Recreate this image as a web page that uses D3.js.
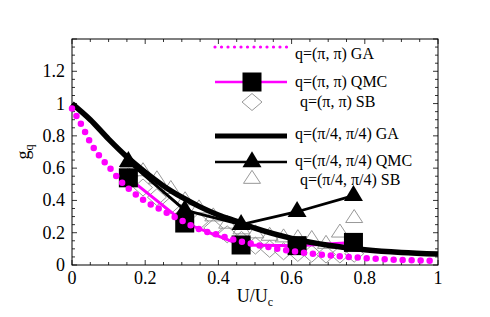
<!DOCTYPE html>
<html>
<head>
<meta charset="utf-8">
<script src="https://cdn.jsdelivr.net/npm/d3@7"></script>
<style>
  body { margin: 0; background: #fff; }
</style>
</head>
<body>
<div id="chart"></div>
<script>
// GA curves
const gaPiU = [0, 0.03, 0.05, 0.077, 0.1, 0.137, 0.167, 0.2, 0.25, 0.3, 0.35, 0.4, 0.45, 0.5, 0.6, 0.7, 0.8, 0.9, 1.0];
const gaPiV = [0.97, 0.85, 0.76, 0.67, 0.61, 0.51, 0.45, 0.395, 0.335, 0.275, 0.22, 0.186, 0.152, 0.127, 0.087, 0.06, 0.043, 0.031, 0.025];
const gaQ4U = [0, 0.05, 0.1, 0.15, 0.2, 0.25, 0.3, 0.35, 0.4, 0.45, 0.5, 0.6, 0.7, 0.8, 0.9, 1.0];
const gaQ4V = [1.0, 0.9, 0.78, 0.67, 0.575, 0.49, 0.42, 0.36, 0.31, 0.27, 0.228, 0.165, 0.122, 0.095, 0.078, 0.068];

// QMC points
const qmcU = [0.154, 0.308, 0.462, 0.615, 0.769];
const qmcPiV = [0.54, 0.26, 0.124, 0.12, 0.14];
const qmcQ4V = [0.64, 0.34, 0.25, 0.33, 0.43];

// SB points
const sbU = [0.155, 0.194, 0.232, 0.27, 0.309, 0.347, 0.386, 0.424, 0.463, 0.501, 0.54, 0.578, 0.617, 0.655, 0.694, 0.732, 0.771];
const sbPiV = [0.55, 0.48, 0.42, 0.37, 0.32, 0.27, 0.23, 0.19, 0.155, 0.12, 0.1, 0.085, 0.075, 0.07, 0.065, 0.065, 0.07];
const sbQ4V = [0.63, 0.58, 0.53, 0.47, 0.40, 0.35, 0.30, 0.255, 0.22, 0.195, 0.18, 0.17, 0.165, 0.16, 0.13, 0.2, 0.29];

const xTicks = [0, 0.2, 0.4, 0.6, 0.8, 1];
const yTicks = [0, 0.2, 0.4, 0.6, 0.8, 1, 1.2];
const yTickLabels = ['0', '0.2', '0.4', '0.6', '0.8', '1', '1.2'];

const legendLabels = [
  'q=(\u03c0, \u03c0) GA',
  'q=(\u03c0, \u03c0) QMC',
  'q=(\u03c0, \u03c0) SB',
  'q=(\u03c0/4, \u03c0/4) GA',
  'q=(\u03c0/4, \u03c0/4) QMC',
  'q=(\u03c0/4, \u03c0/4) SB'
];

const MAGENTA = '#ff00ff';
const GREY = '#8c8c8c';
const FONT = "Liberation Serif, DejaVu Serif, Noto Serif, FreeSerif, Times New Roman, serif";

const width = 490, height = 317;
const x = d3.scaleLinear().domain([0, 1]).range([72, 438]);
const y = d3.scaleLinear().domain([0, 1.4]).range([265, 39]);

const svg = d3.select('#chart').append('svg')
  .attr('width', width)
  .attr('height', height)
  .style('font-family', FONT);

// Frame
svg.append('rect')
  .attr('x', x(0)).attr('y', y(1.4))
  .attr('width', x(1) - x(0)).attr('height', y(0) - y(1.4))
  .attr('fill', 'none').attr('stroke', '#000').attr('stroke-width', 1);

// Inward ticks on all sides
const minorX = d3.range(0, 1.0001, 0.05);
const minorY = d3.range(0, 1.4001, 0.05);
const isMajor = (v) => Math.abs(v * 5 - Math.round(v * 5)) < 1e-6;
const ticks = svg.append('g').attr('stroke', '#000').attr('stroke-width', 0.8);
minorX.forEach((v) => {
  const len = isMajor(v) ? 5 : 3;
  ticks.append('line').attr('x1', x(v)).attr('x2', x(v)).attr('y1', y(0)).attr('y2', y(0) - len);
  ticks.append('line').attr('x1', x(v)).attr('x2', x(v)).attr('y1', y(1.4)).attr('y2', y(1.4) + len);
});
minorY.forEach((v) => {
  const len = isMajor(v) ? 5 : 3;
  ticks.append('line').attr('y1', y(v)).attr('y2', y(v)).attr('x1', x(0)).attr('x2', x(0) + len);
  ticks.append('line').attr('y1', y(v)).attr('y2', y(v)).attr('x1', x(1)).attr('x2', x(1) - len);
});

// Tick labels
svg.append('g').selectAll('text').data(xTicks).join('text')
  .attr('x', (d) => x(d)).attr('y', 284)
  .attr('text-anchor', 'middle').attr('font-size', 18)
  .text((d) => d3.format('~g')(d));
svg.append('g').selectAll('text').data(yTicks).join('text')
  .attr('x', 65).attr('y', (d) => y(d) + 6)
  .attr('text-anchor', 'end').attr('font-size', 18)
  .text((d, i) => yTickLabels[i]);

// Axis titles
const xt = svg.append('text').attr('x', x(0.5)).attr('y', 302)
  .attr('text-anchor', 'middle').attr('font-size', 18);
xt.append('tspan').text('U/U');
xt.append('tspan').attr('font-size', 12).attr('dy', 4).text('c');

const yt = svg.append('text')
  .attr('transform', 'translate(29,' + y(0.7) + ') rotate(-90)')
  .attr('text-anchor', 'middle').attr('font-size', 18);
yt.append('tspan').text('g');
yt.append('tspan').attr('font-size', 12).attr('dy', 4).text('q');

const plot = svg.append('g');

// Marker shapes
const diamond = (cx, cy, w, h) => `M${cx},${cy - h}L${cx + w},${cy}L${cx},${cy + h}L${cx - w},${cy}Z`;
const triangle = (cx, cy, w, h) => `M${cx},${cy - h * 2 / 3}L${cx + w},${cy + h / 3}L${cx - w},${cy + h / 3}Z`;

// SB points
plot.append('g').selectAll('path').data(sbU).join('path')
  .attr('d', (d, i) => diamond(x(d), y(sbPiV[i]), 9.5, 8.5))
  .attr('fill', 'none').attr('stroke', GREY).attr('stroke-width', 0.9);
plot.append('g').selectAll('path').data(sbU).join('path')
  .attr('d', (d, i) => triangle(x(d), y(sbQ4V[i]), 8.5, 13))
  .attr('fill', 'none').attr('stroke', GREY).attr('stroke-width', 0.9);

const line = d3.line().x((d) => x(d[0])).y((d) => y(d[1]));
const smooth = d3.line().x((d) => x(d[0])).y((d) => y(d[1])).curve(d3.curveMonotoneX);

// QMC (pi,pi)
plot.append('path')
  .datum(qmcU.map((u, i) => [u, qmcPiV[i]]))
  .attr('d', line).attr('fill', 'none').attr('stroke', MAGENTA).attr('stroke-width', 3);
plot.append('g').selectAll('rect').data(qmcU).join('rect')
  .attr('x', (d) => x(d) - 9.5).attr('y', (d, i) => y(qmcPiV[i]) - 9.5)
  .attr('width', 19).attr('height', 19).attr('fill', '#000');

// QMC (pi/4,pi/4)
plot.append('path')
  .datum(qmcU.map((u, i) => [u, qmcQ4V[i]]))
  .attr('d', line).attr('fill', 'none').attr('stroke', '#000').attr('stroke-width', 2.8);
plot.append('g').selectAll('path').data(qmcU).join('path')
  .attr('d', (d, i) => triangle(x(d), y(qmcQ4V[i]), 9.5, 16))
  .attr('fill', '#000');

// GA (pi/4,pi/4)
plot.append('path')
  .datum(gaQ4U.map((u, i) => [u, gaQ4V[i]]))
  .attr('d', smooth).attr('fill', 'none').attr('stroke', '#000').attr('stroke-width', 5.5);

// GA (pi,pi) dotted
plot.append('path')
  .datum(gaPiU.map((u, i) => [u, gaPiV[i]]))
  .attr('d', smooth).attr('fill', 'none').attr('stroke', MAGENTA)
  .attr('stroke-width', 6.5).attr('stroke-linecap', 'round').attr('stroke-dasharray', '0 9');

// Legend
const lg = svg.append('g');
const lx0 = 215, lx1 = 287, lxm = 252;
const rowY = [47, 82, 102, 136, 162, 179];
const textX = [295, 295, 300, 295, 295, 300];
const textY = [59, 87, 107, 139, 166, 185];

lg.append('line').attr('x1', lx0).attr('x2', lx1).attr('y1', rowY[0]).attr('y2', rowY[0])
  .attr('stroke', MAGENTA).attr('stroke-width', 3.2).attr('stroke-linecap', 'round')
  .attr('stroke-dasharray', '0 6.5');
lg.append('line').attr('x1', lx0).attr('x2', lx1).attr('y1', rowY[1]).attr('y2', rowY[1])
  .attr('stroke', MAGENTA).attr('stroke-width', 2.5);
lg.append('rect').attr('x', lxm - 9.5).attr('y', rowY[1] - 9.5).attr('width', 19).attr('height', 19).attr('fill', '#000');
lg.append('path').attr('d', diamond(lxm, rowY[2], 10, 8.5)).attr('fill', 'none').attr('stroke', GREY).attr('stroke-width', 0.9);
lg.append('line').attr('x1', lx0).attr('x2', lx1).attr('y1', rowY[3]).attr('y2', rowY[3])
  .attr('stroke', '#000').attr('stroke-width', 5);
lg.append('line').attr('x1', lx0).attr('x2', lx1).attr('y1', rowY[4]).attr('y2', rowY[4])
  .attr('stroke', '#000').attr('stroke-width', 2.5);
lg.append('path').attr('d', triangle(lxm, rowY[4], 9.5, 16)).attr('fill', '#000');
lg.append('path').attr('d', triangle(lxm, rowY[5], 8.5, 13)).attr('fill', 'none').attr('stroke', GREY).attr('stroke-width', 0.9);

lg.selectAll('text').data(legendLabels).join('text')
  .attr('x', (d, i) => textX[i]).attr('y', (d, i) => textY[i])
  .attr('font-size', 16)
  .text((d) => d);
</script>
</body>
</html>
